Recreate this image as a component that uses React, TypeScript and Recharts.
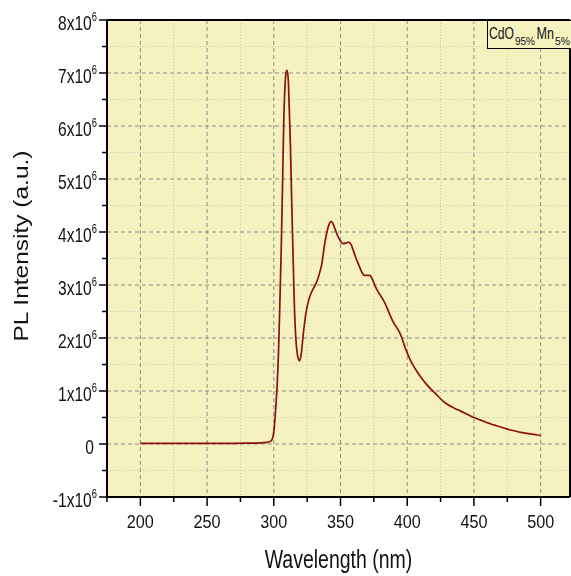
import React from 'react';
import { LineChart, Line, XAxis, YAxis, CartesianGrid, ReferenceLine } from 'recharts';

// PL spectrum, intensity in units of 10^6
const wavelength = [
  200, 220, 240, 260, 280, 290, 295, 298, 299.5, 300.5, 301.5, 302.5, 303.5, 304.5, 305.5, 306.5,
  307.5, 308.5, 309.3, 310, 310.8, 311.5, 312.5, 313.5, 314.5, 315.5, 316.5, 317.5, 318.5, 319.3,
  320.5, 322, 324, 326, 328, 330, 332, 334, 336, 338, 340, 341.5, 343, 344.5, 346, 348, 350, 352,
  354, 356, 358, 360, 362, 364, 366, 368, 370, 372, 374, 376, 378, 380, 382, 384, 386, 388, 390,
  392, 394, 396, 398, 400, 403, 406, 410, 414, 418, 422, 426, 430, 435, 440, 445, 450, 455, 460,
  465, 470, 475, 480, 485, 490, 495, 500,
];
const intensityE6 = [
  0.01, 0.01, 0.01, 0.01, 0.015, 0.02, 0.03, 0.06, 0.15, 0.35, 0.7, 1.1, 1.7, 2.6, 3.6, 4.8,
  6.1, 6.8, 7.02, 7.05, 6.9, 6.4, 5.6, 4.5, 3.5, 2.55, 2.0, 1.72, 1.6, 1.57,
  1.68, 2.05, 2.45, 2.7, 2.85, 2.95, 3.05, 3.2, 3.4, 3.75, 4.02, 4.15, 4.2, 4.15, 4.05, 3.92, 3.83, 3.78,
  3.79, 3.81, 3.76, 3.62, 3.48, 3.36, 3.24, 3.18, 3.18, 3.18, 3.1, 2.98, 2.88, 2.8, 2.72, 2.62, 2.5, 2.38, 2.28,
  2.2, 2.12, 2.0, 1.85, 1.72, 1.55, 1.42, 1.27, 1.14, 1.03, 0.93, 0.83, 0.75, 0.68, 0.62, 0.56, 0.5, 0.45, 0.4,
  0.36, 0.32, 0.28, 0.25, 0.22, 0.2, 0.18, 0.16,
];

const xMajor = [200, 250, 300, 350, 400, 450, 500];
const xMinor = [175, 225, 275, 325, 375, 425, 475];
const yMajor = [-1, 0, 1, 2, 3, 4, 5, 6, 7, 8];
const yMinor = [-0.5, 0.5, 1.5, 2.5, 3.5, 4.5, 5.5, 6.5, 7.5];

const data = wavelength.map((w, i) => ({ w, pl: intensityE6[i] }));

const FONT = '"Liberation Sans", Arial, sans-serif';
const BG = '#f6f2bf';
const LINE = '#8b1010';

function YTick({ x, y, payload }: any) {
  const v = payload.value;
  const major = Number.isInteger(v);
  return (
    <g>
      <line x1={x} x2={x - (major ? 8 : 5)} y1={y} y2={y} stroke="#000" strokeWidth={1.5} />
      {major && (
        <g transform={`translate(${v === 0 ? x - 13 : x - 10},${y + 9.5}) scale(0.78,1)`}>
          <text textAnchor="end" fontSize={20} fontFamily={FONT} fill="#111">
            {v === 0 ? (
              '0'
            ) : (
              <>
                <tspan>{v}x10</tspan>
                <tspan dy={-8.5} fontSize={12}>6</tspan>
              </>
            )}
          </text>
        </g>
      )}
    </g>
  );
}

function XTick({ x, y, payload }: any) {
  const v = payload.value;
  const major = v % 50 === 0;
  return (
    <g>
      <line x1={x} x2={x} y1={y} y2={y + (major ? 9 : 5)} stroke="#000" strokeWidth={1.5} />
      {major && (
        <g transform={`translate(${x},${y + 31}) scale(0.9,1)`}>
          <text textAnchor="middle" fontSize={18} fontFamily={FONT} fill="#111">{v}</text>
        </g>
      )}
    </g>
  );
}

function XTitle({ viewBox }: any) {
  const cx = viewBox.x + viewBox.width / 2;
  return (
    <g transform={`translate(${cx},${viewBox.y + 71}) scale(0.78,1)`}>
      <text textAnchor="middle" fontSize={25} fontFamily={FONT} fill="#111">Wavelength (nm)</text>
    </g>
  );
}

function YTitle() {
  return (
    <g transform="translate(28,246) scale(0.86,1) rotate(-90)">
      <text textAnchor="middle" fontSize={24.5} fontFamily={FONT} fill="#111">PL Intensity (a.u.)</text>
    </g>
  );
}

function LegendBox() {
  const t = { fontFamily: FONT, fill: '#111', lengthAdjust: 'spacingAndGlyphs' as const };
  return (
    <svg
      width={100}
      height={29}
      style={{ position: 'absolute', left: 487, top: 20, overflow: 'visible' }}
    >
      <rect x={0.5} y={0.5} width={99} height={28} fill={BG} stroke="#000" strokeWidth={1} />
      <text {...t} x={2} y={19} fontSize={17} textLength={25}>CdO</text>
      <text {...t} x={28} y={24.5} fontSize={11} textLength={20}>95%</text>
      <text {...t} x={49.5} y={19} fontSize={17} textLength={17.5}>Mn</text>
      <text {...t} x={68} y={24.5} fontSize={11} textLength={15}>5%</text>
    </svg>
  );
}

export default function App() {
  return (
    <div style={{ position: 'fixed', left: 0, top: 0, width: 571, height: 576 }}>
      <LineChart width={571} height={576} data={data} margin={{ top: 20, right: 1, left: 0, bottom: 0 }}>
        <CartesianGrid
          fill={BG}
          stroke="#c9c6b4"
          strokeDasharray="1 2"
          horizontalValues={yMinor}
          verticalValues={xMinor}
          syncWithTicks={false}
        />
        <CartesianGrid
          stroke="#8a8a8a"
          strokeDasharray="4 3"
          horizontalValues={yMajor}
          verticalValues={xMajor}
          syncWithTicks={false}
        />
        <XAxis
          dataKey="w"
          type="number"
          domain={[175, 522]}
          ticks={[...xMinor, ...xMajor].sort((a, b) => a - b)}
          interval={0}
          tickSize={0}
          tickMargin={0}
          tickLine={false}
          tick={<XTick />}
          height={79}
          axisLine={{ stroke: '#000', strokeWidth: 2 }}
          label={<XTitle />}
        />
        <YAxis
          type="number"
          domain={[-1, 8]}
          ticks={[...yMinor, ...yMajor].sort((a, b) => a - b)}
          interval={0}
          tickSize={0}
          tickMargin={0}
          tickLine={false}
          tick={<YTick />}
          width={107}
          axisLine={{ stroke: '#000', strokeWidth: 2 }}
          label={<YTitle />}
        />
        <ReferenceLine y={8} stroke="#000" strokeWidth={2} />
        <ReferenceLine x={522} stroke="#000" strokeWidth={2} />
        <Line
          type="monotone"
          dataKey="pl"
          stroke={LINE}
          strokeWidth={1.7}
          dot={false}
          isAnimationActive={false}
        />
      </LineChart>
      <LegendBox />
    </div>
  );
}
